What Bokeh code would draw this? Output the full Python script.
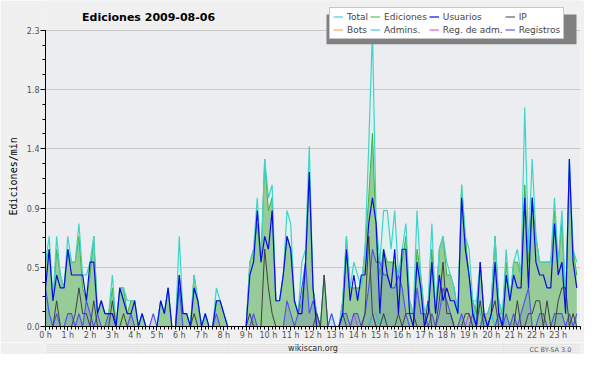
import numpy as np
from bokeh.plotting import figure
from bokeh.layouts import column
from bokeh.models import Range1d, FixedTicker, Label, Legend, LegendItem, BoxAnnotation, Title
from bokeh.embed import file_html
from bokeh.resources import INLINE

# values in edits per minute, one value per 10-minute slot (tenths)
total_t = [5,7,2,7,4,3, 7,5,5,8,4,4, 5,7,1,2,1,1, 4,0,3,3,2,2, 2,0,1,0,0,0, 0,2,1,3,0,0,
           7,1,1,0,4,2, 0,1,0,0,3,2, 1,0,0,0,0,0, 0,5,6,10,5,13, 10,11,2,2,4,9, 8,2,1,5,6,14,
           3,1,0,4,0,1, 0,0,2,7,3,5, 4,3,6,14,23,8, 5,9,9,6,9,4, 6,8,2,1,9,4, 1,2,8,1,6,7,
           5,4,3,1,11,7, 6,2,2,5,1,1, 2,7,2,1,6,2, 5,6,4,17,6,13, 7,5,5,5,5,10, 5,9,2,13,6,5]
ediciones_t = [5,6,2,6,4,3, 6,5,5,7,3,2, 4,7,1,2,1,1, 3,0,3,3,1,2, 2,0,1,0,0,0, 0,2,1,3,0,0,
               4,1,1,0,4,2, 0,1,0,0,2,2, 1,0,0,0,0,0, 0,5,6,8,5,13, 9,10,2,2,4,7, 6,2,1,2,5,12,
               3,1,0,4,0,0, 0,0,2,7,3,3, 3,3,6,10,15,7, 4,6,5,5,5,4, 5,7,2,1,6,4, 1,1,6,1,6,7,
               4,4,3,1,11,7, 4,2,1,5,1,1, 2,7,2,1,5,2, 5,5,4,11,5,10, 7,5,5,5,5,9, 5,8,2,12,6,4]
usuarios_t = [3,6,2,4,3,3, 6,4,4,4,4,2, 5,5,1,2,1,1, 1,0,3,2,1,1, 2,0,1,0,0,0, 0,2,1,3,0,0,
              4,1,1,0,3,2, 0,1,0,0,2,2, 1,0,0,0,0,0, 0,4,5,9,5,7, 6,9,2,2,4,7, 6,2,1,1,5,12,
              3,0,0,0,0,0, 0,0,1,6,2,4, 2,4,4,8,10,8, 1,6,4,3,6,1, 6,6,1,0,5,3, 0,1,5,1,4,2,
              3,2,2,1,10,6, 4,1,0,5,1,0, 1,5,1,0,4,2, 4,3,3,10,3,10, 5,4,4,3,3,8, 4,5,1,13,5,3]
ip_t = [0,0,0,2,0,0, 0,0,1,3,1,1, 0,2,0,0,0,0, 2,0,0,1,0,0, 0,0,0,0,0,0, 0,0,0,0,0,0,
        0,0,0,0,1,0, 0,0,0,0,0,0, 0,0,0,0,0,0, 0,1,0,0,0,6, 3,1,0,0,0,0, 0,0,0,0,0,0,
        0,1,0,4,0,0, 0,0,1,0,0,0, 0,0,1,7,1,0, 0,1,0,0,0,1, 0,1,1,1,0,0, 0,2,0,0,2,5,
        1,1,0,0,0,1, 1,0,0,2,0,0, 1,2,0,0,0,0, 0,2,0,0,1,1, 2,2,0,2,0,0, 2,3,3,0,1,0]
registros_t = [3,1,0,1,0,0, 1,1,0,1,0,2, 1,0,1,0,0,1, 1,0,0,0,0,1, 0,0,0,0,0,1, 0,0,0,0,0,0,
               3,0,0,0,0,0, 0,0,0,0,1,0, 0,0,0,0,0,0, 0,0,1,0,0,0, 0,0,0,0,0,2, 1,0,1,3,5,1,
               2,1,0,0,0,1, 0,0,1,1,0,1, 1,0,1,3,6,5, 5,4,4,3,3,4, 3,1,0,0,3,1, 1,0,1,0,1,3,
               2,1,0,0,1,0, 0,1,0,0,1,0, 0,0,1,0,1,0, 1,0,1,2,3,0, 0,1,1,0,0,1, 1,1,0,1,0,1]
admins_t = [3,1,0,0,0,0, 0,0,0,0,0,0, 0,0,0,0,0,0, 0,0,0,0,0,0, 0,0,0,0,0,0, 0,0,0,0,0,0,
            0,0,0,0,0,0, 0,0,0,0,0,0, 0,0,0,0,0,0, 0,0,0,0,0,0, 0,0,0,0,0,0, 0,0,0,0,0,0,
            0,0,0,0,0,0, 0,0,0,0,0,0, 0,0,0,0,1,1, 0,1,0,0,0,0, 0,0,0,0,0,0, 0,0,0,0,0,0,
            0,0,0,0,0,0, 0,0,2,1,0,0, 1,0,1,1,0,0, 0,0,0,0,0,0, 0,0,0,0,0,0, 0,0,0,0,0,0]
regadm_t = [0]*144
regadm_t[83] = 1
regadm_t[88] = 1
regadm_t[114] = 1
bots_t = [0]*144

y_ticks = [0.0, 0.46, 0.92, 1.38, 1.84, 2.3]
y_tick_labels = ["0.0", "0.5", "0.9", "1.4", "1.8", "2.3"]
x_ticks = list(range(24))
x_tick_labels = [f"{h} h" for h in x_ticks]

x = np.arange(144) / 6.0
def per_min(a):
    return np.array(a, dtype=float) / 10.0

total = per_min(total_t)
ediciones = per_min(ediciones_t)
usuarios = per_min(usuarios_t)
ip = per_min(ip_t)
registros = per_min(registros_t)
admins = per_min(admins_t)
regadm = per_min(regadm_t)
bots = per_min(bots_t)

W, H, H2 = 584, 342, 12
LB, RB, TB, BB = 45, 4, 0, 14
FW, FH = W - LB - RB, H - TB - BB          # frame 535 x 328
Y_TOP_PX = 30                               # pixel row (in figure) of the value 2.3
Y_END = 2.3 * FH / (FH - Y_TOP_PX)

def dx(fx):
    return (fx - LB) / FW * 24.0
def dy(fy):
    return (H - BB - fy) / FH * Y_END

FONT = "DejaVu Sans"
BG_OUT = "#f0f0f0"

p = figure(width=W, height=H, output_backend="svg", toolbar_location=None,
           x_range=Range1d(0, 24), y_range=Range1d(0, Y_END),
           min_border_left=LB, min_border_right=RB, min_border_top=TB, min_border_bottom=BB,
           title_location=None)
p.background_fill_color = "#ebedf0"
p.border_fill_color = BG_OUT
p.outline_line_color = None

# axes
p.xaxis.ticker = FixedTicker(ticks=x_ticks, minor_ticks=[k / 6.0 for k in range(145)])
p.xaxis.major_label_overrides = {t: l for t, l in zip(x_ticks, x_tick_labels)}
p.yaxis.ticker = FixedTicker(ticks=y_ticks, minor_ticks=[k * 0.115 for k in range(21)])
p.yaxis.major_label_overrides = {t: l for t, l in zip(y_ticks, y_tick_labels)}
p.yaxis.bounds = (0, 2.3)
for ax in (p.xaxis[0], p.yaxis[0]):
    ax.axis_line_color = "black"
    ax.major_tick_line_color = "black"
    ax.minor_tick_line_color = "black"
    ax.major_label_text_font = FONT
    ax.major_label_text_font_size = "8px"
    ax.major_label_text_color = "#505050"
    ax.major_tick_in = 0
    ax.minor_tick_in = 0
p.xaxis.major_tick_out = 4
p.xaxis.minor_tick_out = 3
p.xaxis.major_label_standoff = 0
p.yaxis.major_tick_out = 5
p.yaxis.minor_tick_out = 3
p.yaxis.major_label_standoff = 1
p.xgrid.visible = False
p.ygrid.ticker = FixedTicker(ticks=y_ticks)
p.ygrid.grid_line_color = "#c8c8c8"

# band above the value range (outer colour)
p.add_layout(BoxAnnotation(bottom=2.3 + 0.004, fill_color=BG_OUT, fill_alpha=1.0,
                           line_color=None, level="underlay"))

# y axis title on the left
p.add_layout(Title(text="Ediciones/min", text_font="DejaVu Sans Mono", text_font_size="10px",
                   text_font_style="normal", align="left", offset=111, standoff=10,
                   text_color="black"), "left")

# areas
p.varea(x=x, y1=0, y2=total, fill_color="#dff2f0")
p.varea(x=x, y1=0, y2=ediciones, fill_color="#97cb97")
p.varea(x=x, y1=0, y2=registros, fill_color="#3030e0", fill_alpha=0.13)

r_bots = p.line(x, bots, line_color="#f0a040", line_width=1)
r_regadm = p.line(x, regadm, line_color="#d040d8", line_width=1)
r_edic = p.line(x, ediciones, line_color="#3cb43c", line_width=1)
r_total = p.line(x, total, line_color="#40d4c8", line_width=1.2)
r_admins = p.line(x, admins, line_color="#20c0d8", line_width=1)
r_reg = p.line(x, registros, line_color="#5050f0", line_width=1.1)
r_ip = p.line(x, ip, line_color="#404040", line_width=1)
r_usu = p.line(x, usuarios, line_color="#0a0ae6", line_width=1.2)

# legend shadow + legend
LG_L, LG_T, LG_B = 329, 11, 41
p.add_layout(BoxAnnotation(left=dx(LG_L - 3), right=dx(LG_L + 247), top=dy(LG_T + 3),
                           bottom=dy(LG_B + 3), fill_color="#808080", fill_alpha=1.0,
                           line_color=None, level="overlay"))
legend = Legend(items=[
    LegendItem(label="Total", renderers=[r_total]),
    LegendItem(label="Ediciones", renderers=[r_edic]),
    LegendItem(label="Usuarios", renderers=[r_usu]),
    LegendItem(label="IP", renderers=[r_ip]),
    LegendItem(label="Bots", renderers=[r_bots]),
    LegendItem(label="Admins.", renderers=[r_admins]),
    LegendItem(label="Reg. de adm.", renderers=[r_regadm]),
    LegendItem(label="Registros", renderers=[r_reg]),
], orientation="horizontal", ncols=4, location=(LG_L - LB, H - BB - LG_B),
    label_text_font=FONT, label_text_font_size="9px", label_height=11, glyph_height=11,
    glyph_width=10, label_standoff=4, spacing=2, padding=3, margin=0,
    border_line_color="#909090", background_fill_color="white", background_fill_alpha=1.0)
p.add_layout(legend, "center")

# chart title
p.add_layout(Label(x=dx(150), y=dy(17), text="Ediciones  2009-08-06", text_font=FONT,
                   text_font_style="bold", text_font_size="11px", text_align="center",
                   text_baseline="middle", text_color="black"))

# footer strip
p2 = figure(width=W, height=H2, output_backend="svg", toolbar_location=None,
            x_range=Range1d(0, W), y_range=Range1d(0, H2),
            x_axis_location=None, y_axis_location=None, min_border=0, title_location=None)
p2.background_fill_color = BG_OUT
p2.border_fill_color = BG_OUT
p2.outline_line_color = None
p2.add_layout(Label(x=292, y=H2 / 2, text="wikiscan.org", text_font=FONT,
                    text_font_size="8px", text_align="center", text_baseline="middle",
                    text_color="#303030"))
p2.add_layout(Label(x=574, y=H2 / 2 - 1, text="CC BY-SA 3.0", text_font=FONT,
                    text_font_size="6.5px", text_align="right", text_baseline="middle",
                    text_color="#606060"))

layout = column(p, p2, spacing=0)
open("out.html", "w").write(file_html(layout, INLINE))
